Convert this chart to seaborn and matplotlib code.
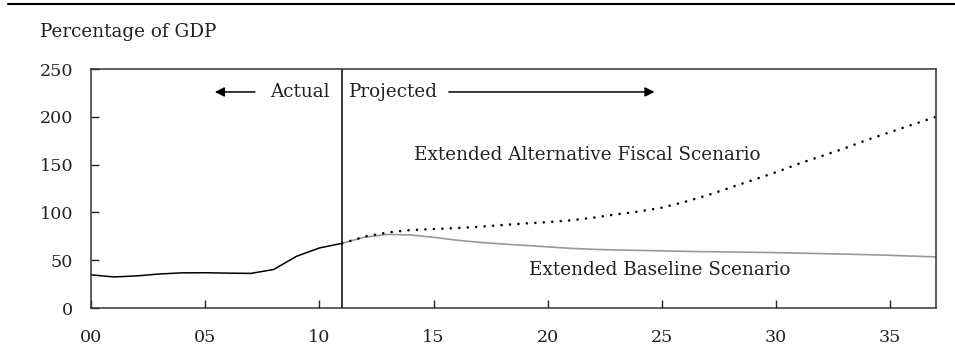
import matplotlib
matplotlib.use("Agg")
import matplotlib.pyplot as plt
import seaborn as sns
from matplotlib.lines import Line2D

# -----------------------------
# Data (percentage of GDP)
# -----------------------------

years_actual = list(range(0, 12))
debt_actual = [34.7, 32.5, 33.6, 35.6, 36.8, 36.9, 36.5, 36.2, 40.3, 54.1, 62.8, 67.7]

years_proj = list(range(11, 38))
debt_baseline = [67.7, 74.2, 77.0, 76.4, 74.0, 71.0, 68.7, 67.0, 65.5, 64.0, 62.4, 61.4,
                 60.7, 60.3, 59.8, 59.3, 58.9, 58.6, 58.3, 57.9, 57.4, 56.9, 56.4, 55.8,
                 55.1, 54.3, 53.5]
debt_alternative = [67.7, 74.8, 79.0, 81.6, 82.6, 83.6, 85.0, 86.8, 88.4, 89.8, 91.7, 94.5,
                    98.0, 101.0, 105.0, 111.0, 118.0, 126.0, 134.0, 142.0, 151.0, 159.0,
                    167.0, 176.0, 184.0, 192.0, 200.0]

x_ticks = [0, 5, 10, 15, 20, 25, 30, 35]
x_ticklabels = ["00", "05", "10", "15", "20", "25", "30", "35"]
y_ticks = [0, 50, 100, 150, 200, 250]

# -----------------------------
# Style
# -----------------------------

sns.set_style("ticks")
plt.rcParams['font.family'] = ['DejaVu Serif']
plt.rcParams['xtick.direction'] = 'in'
plt.rcParams['ytick.direction'] = 'in'
fs_tick = 12.6
fs = 13.2
txt_color = "#222222"

fig = plt.figure(figsize=(9.55, 3.64), dpi=100)
ax = fig.add_axes([0.0953, 0.1538, 0.8847, 0.6566])

# -----------------------------
# Lines
# -----------------------------

sns.lineplot(x=years_proj, y=debt_baseline, ax=ax, color="#999999", linewidth=1.2)
sns.lineplot(x=years_proj, y=debt_alternative, ax=ax, color="black", linewidth=1.9,
             linestyle=(0, (0.01, 3.2)), dash_capstyle="round")
sns.lineplot(x=years_actual, y=debt_actual, ax=ax, color="black", linewidth=1.1)

ax.axvline(11, color="black", linewidth=1.1)

# -----------------------------
# Axes
# -----------------------------

ax.set_xlim(0, 37)
ax.set_ylim(0, 250)
ax.set_xticks(x_ticks)
ax.set_xticklabels(x_ticklabels)
ax.set_yticks(y_ticks)
ax.tick_params(axis="x", direction="in", length=6, width=1, pad=15, labelsize=fs_tick,
               colors=txt_color)
ax.tick_params(axis="y", direction="in", length=6, width=1, pad=13, labelsize=fs_tick,
               colors=txt_color)
for side in ["left", "bottom", "top", "right"]:
    ax.spines[side].set_visible(True)
    ax.spines[side].set_linewidth(1.1)
    ax.spines[side].set_color("#333333")
ax.set_xlabel("")
ax.set_ylabel("")

# -----------------------------
# Annotations
# -----------------------------

ax.text(10.45, 226, "Actual", ha="right", va="center", fontsize=fs, color=txt_color)
ax.text(11.3, 226, "Projected", ha="left", va="center", fontsize=fs, color=txt_color)
ax.annotate("", xy=(5.3, 226), xytext=(7.3, 226),
            arrowprops=dict(arrowstyle="-|>", color="black", lw=1.1, mutation_scale=14))
ax.annotate("", xy=(24.8, 226), xytext=(15.55, 226),
            arrowprops=dict(arrowstyle="-|>", color="black", lw=1.1, mutation_scale=14))

ax.text(14.15, 160, "Extended Alternative Fiscal Scenario", ha="left", va="center",
        fontsize=fs, color=txt_color)
ax.text(19.2, 39.5, "Extended Baseline Scenario", ha="left", va="center",
        fontsize=fs, color=txt_color)

fig.text(40 / 955, 1 - 32 / 364, "Percentage of GDP", ha="left", va="center",
         fontsize=fs, color=txt_color)

# rule across top of figure
fig.add_artist(Line2D([8 / 955, 1.0], [1 - 4 / 364, 1 - 4 / 364],
                      transform=fig.transFigure, color="black", linewidth=1.5))

fig.savefig("out.png", dpi=100)
